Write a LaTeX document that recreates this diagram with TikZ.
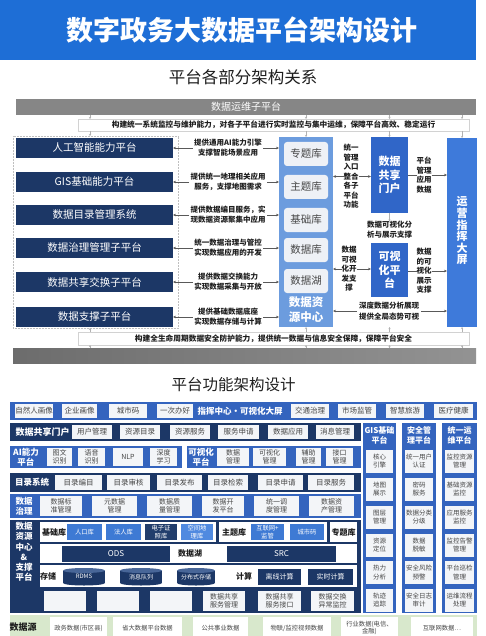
\documentclass[tikz,border=0pt]{standalone}
\usepackage{fontspec}
\setmainfont{Noto Sans CJK SC}
\usetikzlibrary{arrows.meta}
\definecolor{titleblue}{RGB}{30,110,214}
\definecolor{navy}{RGB}{28,55,102}
\definecolor{colblue}{RGB}{108,156,222}
\definecolor{midblue}{RGB}{48,102,200}
\definecolor{scrblue}{RGB}{62,122,218}
\definecolor{barblue}{RGB}{52,100,190}
\definecolor{libfill}{RGB}{238,241,246}
\definecolor{cellfill}{RGB}{243,245,248}
\definecolor{greenbg}{RGB}{216,232,204}
\definecolor{txtdark}{RGB}{30,30,30}
\definecolor{txtgray}{RGB}{70,70,70}
\definecolor{popblue}{RGB}{62,122,212}
\definecolor{geoblue}{RGB}{80,138,224}
\definecolor{ezblue}{RGB}{34,62,108}
\definecolor{cyltop}{RGB}{72,102,152}
\newcommand\fz[2]{\fontsize{#1}{#2}\selectfont}
\newcommand\Bx[7]{\node[#1, minimum width={#5-#3}, minimum height={#6-#4}] (#2) at ({(#3+#5)/2},{(#4+#6)/2}) {#7};}
\tikzset{
  base/.style={inner sep=0pt, outer sep=0pt, align=center},
  navyL/.style={base, fill=navy, text=white, font=\fz{10.5}{12}},
  lbl/.style={base, text=txtdark, font=\bfseries\fz{7.5}{10}},
  vlbl/.style={base, text=txtdark, font=\bfseries\fz{7.5}{9.5}},
  lib/.style={base, fill=libfill, rounded corners=3pt, text=txtgray, font=\fz{10.5}{12}},
  bluebox/.style={base, text=white, font=\bfseries\fz{11}{13.5}},
  arr/.style={draw=gray!70!black, line width=0.5pt, -{Stealth[length=3pt,width=2.6pt]}},
  plainln/.style={draw=gray!70!black, line width=0.5pt},
  tick/.style={draw=gray!60, line width=0.4pt, -{Stealth[length=2pt,width=2pt]}},
  wb/.style={base, fill=cellfill, text=txtgray, font=\fz{7.5}{9}},
  wbs/.style={base, fill=cellfill, text=txtgray, font=\fz{7}{8.5}},
  cell/.style={base, fill=cellfill, text=txtgray, font=\fz{6.5}{8.5}},
  hd/.style={base, text=white, font=\bfseries\fz{8.5}{10}},
  dk/.style={base, text=txtdark, font=\bfseries\fz{8}{10}},
  cb/.style={base, text=white, font=\fz{6.3}{7.6}},
  ds/.style={base, fill=white, text=txtgray, font=\fz{6.3}{7.6}}
}
\begin{document}
\begin{tikzpicture}[x=1pt,y=-1pt]
\useasboundingbox (0,0) rectangle (486,636);
\fill[white] (0,0) rectangle (486,636);
% ---------- title ----------
\Bx{base,fill=titleblue}{banner}{0}{0}{476}{60}{}
\node[base,text=white,font=\bfseries\fz{27}{30}] (title) at (241.5,30) {数字政务大数据平台架构设计};
\node[base,text=txtdark,font=\fz{16.5}{19}] (sub1) at (243,77) {平台各部分架构关系};
% ---------- section 1 ----------
\Bx{base,fill=gray!95,text=white,font=\fz{10}{12}}{opsbar}{16}{99}{476}{115}{数据运维子平台}
\Bx{base,fill=white,draw=gray!35,line width=0.4pt,text=txtdark,font=\bfseries\fz{7.7}{9}}{opsline}{78}{119}{469}{131}{构建统一系统监控与维护能力，对各子平台进行实时监控与集中运维，保障平台高效、稳定运行}
\Bx{base,draw=gray!50,densely dotted,line width=0.5pt}{cont}{13}{136}{178}{328}{}
\Bx{navyL}{ai}{16}{138}{173}{158}{人工智能能力平台}
\Bx{navyL}{gis}{16}{172}{173}{192}{GIS基础能力平台}
\Bx{navyL}{cat}{16}{205}{173}{225}{数据目录管理系统}
\Bx{navyL}{gov}{16}{238}{173}{258}{数据治理管理子平台}
\Bx{navyL}{exch}{16}{272}{173}{292}{数据共享交换子平台}
\Bx{navyL}{sup}{16}{307}{173}{327}{数据支撑子平台}
\node[lbl] (l1) at (228,148) {提供通用AI能力引擎\\支撑智能场景应用};
\node[lbl] (l2) at (228,182) {提供统一地理相关应用\\服务，支撑地图需求};
\node[lbl] (l3) at (228,215) {提供数据编目服务，实\\现数据资源聚集中应用};
\node[lbl] (l4) at (228,248) {统一数据治理与管控\\实现数据应用的开发};
\node[lbl] (l5) at (228,282) {提供数据交换能力\\实现数据采集与开放};
\node[lbl] (l6) at (228,317) {提供基础数据底座\\实现数据存储与计算};
% resource column
\Bx{base,fill=colblue}{res}{279}{137}{333}{327}{}
\Bx{lib}{zt}{284}{142}{328}{166}{专题库}
\Bx{lib}{zh}{284}{175}{328}{199}{主题库}
\Bx{lib}{jc}{284}{208}{328}{232}{基础库}
\Bx{lib}{sj}{284}{238}{328}{262}{数据库}
\Bx{lib}{hu}{284}{269}{328}{293}{数据湖}
\node[base,text=white,font=\bfseries\fz{11.5}{15}] (restitle) at (306,310) {数据资\\源中心};
\foreach \i/\b in {1/ai,2/gis,3/cat,4/gov,5/exch,6/sup}{
  \draw[arr,shorten <=1.5pt] (l\i.west) -- (\b.east |- l\i.west);
  \draw[arr,shorten <=1.5pt] (l\i.east) -- (res.west |- l\i.east);
}
% portal, visual, screen
\Bx{bluebox,fill=midblue}{portal}{371}{137}{408}{213}{数据\\共享\\门户}
\Bx{bluebox,fill=midblue}{vis}{371}{243}{408}{297}{可视\\化平\\台}
\Bx{base,fill=scrblue}{screen}{447}{138}{477}{327}{}
\node[base,text=white,font=\bfseries\fz{11}{11.6}] (scrtxt) at (462,231) {运\\营\\指\\挥\\大\\屏};
\node[vlbl] (m1) at (351,176.5) {统一\\管理\\入口\\整合\\各子\\平台\\功能};
\node[vlbl] (m2) at (349,269) {数据\\可视\\化开\\发支\\撑};
\node[vlbl] (rt1) at (424,175) {平台\\管理\\应用\\数据};
\node[vlbl] (rt2) at (424,271) {数据\\的可\\视化\\展示\\支撑};
\node[lbl] (vtx) at (389.5,230) {数据可视化分\\析与展示支撑};
\node[lbl,font=\bfseries\fz{7.5}{11}] (btx) at (389,311) {深度数据分析展现\\提供全局态势可视};
\draw[arr] (m1.west) -- (res.east |- m1.west);
\draw[arr] (m1.east) -- (portal.west |- m1.east);
\draw[arr] (m2.west) -- (res.east |- m2.west);
\draw[arr] (m2.east) -- (vis.west |- m2.east);
\draw[plainln] (portal.east |- rt1.west) -- (rt1.west);
\draw[arr] (rt1.east) -- (screen.west |- rt1.east);
\draw[plainln] (vis.east |- rt2.west) -- (rt2.west);
\draw[arr] (rt2.east) -- (screen.west |- rt2.east);
\draw[arr,shorten <=2pt] (btx.west) -- (res.east |- btx.west);
\draw[arr,shorten <=2pt] (btx.east) -- (screen.west |- btx.east);
\draw[tick] (portal.south) -- (vtx.north);
% security line and bar
\Bx{base,fill=white,draw=gray!35,line width=0.4pt,text=txtdark,font=\bfseries\fz{7.7}{9}}{secline}{78}{332}{469}{345}{构建全生命周期数据安全防护能力，提供统一数据与信息安全保障，保障平台安全}
\Bx{base,left color=gray!85!black,right color=gray!85}{secbar}{13}{348}{476}{363}{}
\coordinate (tA) at (90,0);
\coordinate (tB) at (306,0);
\coordinate (tC) at (389.5,0);
\coordinate (tD) at (462,0);
\coordinate (vb) at (389.5,327);
\foreach \t in {tA,tB,tC,tD}{
  \draw[tick] (opsbar.south -| \t) -- (opsline.north -| \t);
  \draw[tick] (secbar.north -| \t) -- (secline.south -| \t);
}
\draw[tick] (opsline.south -| tA) -- (cont.north -| tA);
\draw[tick] (opsline.south -| tB) -- (res.north -| tB);
\draw[tick] (opsline.south -| tC) -- (portal.north -| tC);
\draw[tick] (opsline.south -| tD) -- (screen.north -| tD);
\draw[tick] (secline.north -| tA) -- (cont.south -| tA);
\draw[tick] (secline.north -| tB) -- (res.south -| tB);
\draw[tick] (secline.north -| tC) -- (vb);
\draw[tick] (secline.north -| tD) -- (screen.south -| tD);
% ---------- section 2 ----------
\node[base,text=txtdark,font=\fz{15.5}{18}] (sub2) at (233.5,385) {平台功能架构设计};
% row 1
\Bx{base,fill=barblue}{row1}{10}{402}{477}{420}{}
\Bx{wb}{p1}{15}{404}{53}{418}{自然人画像}
\Bx{wb}{p2}{62}{404}{97}{418}{企业画像}
\Bx{wb}{p3}{109}{404}{147}{418}{城市码}
\Bx{wb}{p4}{157}{404}{193}{418}{一次办好}
\node[hd] (cmd) at (240,411) {指挥中心·可视化大屏};
\Bx{wb}{p5}{291}{404}{329}{418}{交通治理}
\Bx{wb}{p6}{338}{404}{376}{418}{市场监管}
\Bx{wb}{p7}{386}{404}{424}{418}{智慧旅游}
\Bx{wb}{p8}{434}{404}{473}{418}{医疗健康}
% row 2
\Bx{base,fill=navy}{row2}{10}{423}{361}{441}{}
\node[hd,font=\bfseries\fz{9}{10}] (portal2) at (42.5,432) {数据共享门户};
\Bx{wb}{q1}{72}{425}{112}{439}{用户管理}
\Bx{wb}{q2}{120}{425}{160}{439}{资源目录}
\Bx{wb}{q3}{170}{425}{210}{439}{资源服务}
\Bx{wb}{q4}{218}{425}{259}{439}{服务申请}
\Bx{wb}{q5}{268}{425}{308}{439}{数据应用}
\Bx{wb}{q6}{316}{425}{354}{439}{消息管理}
% row 3
\Bx{base,fill=barblue}{row3a}{10}{446}{182}{468}{}
\Bx{base,fill=barblue}{row3b}{187}{446}{361}{468}{}
\node[hd] (ai2) at (26,457) {AI能力\\平台};
\Bx{wbs}{a1}{47}{448}{72}{466}{图文\\识别}
\Bx{wbs}{a2}{78}{448}{105}{466}{语音\\识别}
\Bx{wbs}{a3}{113}{448}{143}{466}{NLP}
\Bx{wbs}{a4}{150}{448}{177}{466}{深度\\学习}
\node[hd] (vis2) at (201,457) {可视化\\平台};
\Bx{wbs}{v1}{217}{448}{249}{466}{数据\\管理}
\Bx{wbs}{v2}{253}{448}{286}{466}{可视化\\管理}
\Bx{wbs}{v3}{296}{448}{321}{466}{辅助\\管理}
\Bx{wbs}{v4}{326}{448}{353}{466}{接口\\管理}
% row 4
\Bx{base,fill=navy}{row4}{10}{473}{361}{492}{}
\node[hd] (cat2) at (32,482.5) {目录系统};
\Bx{wb}{c1}{55}{475}{102}{490}{目录编目}
\Bx{wb}{c2}{107}{475}{150}{490}{目录审核}
\Bx{wb}{c3}{157}{475}{202}{490}{目录发布}
\Bx{wb}{c4}{208}{475}{248}{490}{目录检索}
\Bx{wb}{c5}{258}{475}{303}{490}{目录申请}
\Bx{wb}{c6}{308}{475}{354}{490}{目录服务}
% row 5
\Bx{base,fill=barblue}{row5}{10}{494}{361}{518}{}
\node[hd] (gov2) at (24,506) {数据\\治理};
\Bx{wbs}{g1}{40}{496}{82}{516}{数据标\\准管理}
\Bx{wbs}{g2}{92}{496}{137}{516}{元数据\\管理}
\Bx{wbs}{g3}{147}{496}{192}{516}{数据质\\量管理}
\Bx{wbs}{g4}{202}{496}{244}{516}{数据开\\发平台}
\Bx{wbs}{g5}{254}{496}{299}{516}{统一调\\度管理}
\Bx{wbs}{g6}{309}{496}{354}{516}{数据资\\产管理}
% row 6
\Bx{base,fill=navy}{row6}{10}{520}{361}{589}{}
\node[hd,font=\bfseries\fz{8.5}{10.2}] (res2) at (24,552) {数据\\资源\\中心\\\&\\支撑\\平台};
\Bx{base,fill=white}{sa1}{40}{522}{216}{542}{}
\Bx{base,fill=white}{sa2}{219}{522}{327}{542}{}
\Bx{dk,fill=white}{sa3}{330}{522}{357}{542}{专题库}
\node[dk] (jck) at (54,532) {基础库};
\Bx{cb,fill=popblue}{k1}{67}{524}{102}{540}{人口库}
\Bx{cb,fill=popblue}{k2}{106}{524}{141}{540}{法人库}
\Bx{cb,fill=ezblue}{k3}{145}{524}{177}{540}{电子证\\照库}
\Bx{cb,fill=geoblue}{k4}{181}{524}{213}{540}{空间地\\理库}
\node[dk] (ztk) at (234,532) {主题库};
\Bx{cb,fill=popblue}{k5}{251}{524}{284}{540}{互联网+\\监管}
\Bx{cb,fill=popblue}{k6}{290}{524}{324}{540}{城市码}
\Bx{base,fill=white}{sb}{40}{544}{357}{563}{}
\Bx{base,fill=navy,text=white,font=\fz{8}{9}}{ods}{62}{546}{170}{561.5}{ODS}
\node[dk] (lake) at (190,553.5) {数据湖};
\Bx{base,fill=navy,text=white,font=\fz{8}{9}}{src}{227}{546}{336}{561.5}{SRC}
\Bx{base,fill=white}{sc}{40}{565}{357}{587}{}
\node[dk] (store) at (48,576) {存储};
\fill[navy] (84,583) ellipse (21pt and 2.5pt);
\fill[navy] (141,583) ellipse (21pt and 2.5pt);
\fill[navy] (196,583) ellipse (19pt and 2.5pt);
\Bx{cb,fill=navy,font=\fz{6}{7}}{cy1}{63}{570.5}{105}{583}{RDMS}
\Bx{cb,fill=navy,font=\fz{6}{7}}{cy2}{120}{570.5}{162}{583}{消息队列}
\Bx{cb,fill=navy,font=\fz{6}{7}}{cy3}{177}{570.5}{215}{583}{分布式存储}
\fill[cyltop] (cy1.north) ellipse (21pt and 2.5pt);
\fill[cyltop] (cy2.north) ellipse (21pt and 2.5pt);
\fill[cyltop] (cy3.north) ellipse (19pt and 2.5pt);
\node[dk] (calc) at (244,576) {计算};
\Bx{base,fill=navy,text=white,font=\fz{7}{8}}{off}{258}{569}{301}{585}{离线计算}
\Bx{base,fill=navy,text=white,font=\fz{7}{8}}{rt}{308}{569}{353}{585}{实时计算}
% row 7
\Bx{base,fill=navy}{row7}{10}{589}{361}{613}{}
\Bx{wbs}{s1}{44}{591}{86}{611}{}
\Bx{wbs}{s2}{97}{591}{139}{611}{}
\Bx{wbs}{s3}{150}{591}{192}{611}{}
\Bx{wbs}{s4}{203}{591}{245}{611}{数据共享\\服务管理}
\Bx{wbs}{s5}{258}{591}{301}{611}{数据共享\\服务接口}
\Bx{wbs}{s6}{311}{591}{354}{611}{数据交换\\异常监控}
% right columns
\Bx{base,fill=barblue}{colg}{363}{423}{396}{613}{}
\Bx{base,fill=barblue}{cols}{402}{423}{436}{613}{}
\Bx{base,fill=barblue}{colo}{442}{423}{477}{613}{}
\node[hd,font=\bfseries\fz{8}{10}] (hg) at (379.5,435) {GIS基础\\平台};
\node[hd,font=\bfseries\fz{8}{10}] (hs) at (419,435) {安全管\\理平台};
\node[hd,font=\bfseries\fz{8}{10}] (ho) at (459.5,435) {统一运\\维平台};
\foreach \n/\y/\a/\b/\c in {
  1/461/核心\\引擎/统一用户\\认证/监控资源\\管理,
  2/489/地图\\展示/密码\\服务/基础资源\\监控,
  3/517/图层\\管理/数据分类\\分级/应用服务\\监控,
  4/545/资源\\定位/数据\\脱敏/监控告警\\管理,
  5/572.5/热力\\分析/安全风险\\预警/平台巡检\\管理,
  6/600/轨迹\\追踪/安全日志\\审计/运维流程\\处理}{
  \node[cell,minimum width=27,minimum height=23] (cg\n) at (379.5,\y) {\a};
  \node[cell,minimum width=28,minimum height=23] (cs\n) at (419,\y) {\b};
  \node[cell,minimum width=29,minimum height=23] (co\n) at (459.5,\y) {\c};
}
% row 8
\Bx{base,fill=greenbg}{row8}{10}{615}{477}{640}{}
\node[dk,font=\bfseries\fz{9}{10}] (srcl) at (23,627) {数据源};
\Bx{ds}{d1}{50}{617}{107}{639}{政务数据(市区县)}
\Bx{ds}{d2}{113}{617}{182}{639}{省大数据平台数据}
\Bx{ds}{d3}{193}{617}{248}{639}{公共事业数据}
\Bx{ds}{d4}{263}{617}{331}{639}{物联/监控视频数据}
\Bx{ds}{d5}{341}{617}{398}{639}{行业数据(电信、\\金融)}
\Bx{ds}{d6}{411}{617}{473}{639}{互联网数据…}
\end{tikzpicture}
\end{document}
